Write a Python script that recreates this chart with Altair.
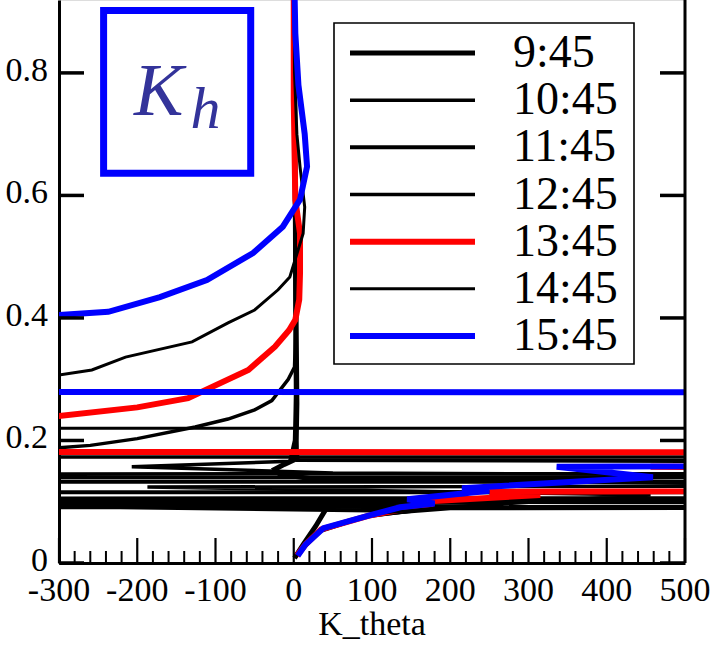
import altair as alt
import pandas as pd

# ---------------- data ----------------
TIMES = ["9:45", "10:45", "11:45", "12:45", "13:45", "14:45", "15:45"]
COLORS = ["#000000", "#000000", "#000000", "#000000", "#ff0000", "#000000", "#0000ff"]
WIDTHS = [5, 3.5, 4, 3.5, 6, 3, 6]

K_0945 = [1, 12, 28, 42, 268, -3000, 3000, 25, -18, -24, -12, 0, 3, 4, 3, 2, 1, 0]
Z_0945 = [0.008, 0.03, 0.06, 0.09, 0.092, 0.100, 0.101, 0.137, 0.145, 0.153, 0.161, 0.168, 0.19, 0.26, 0.40, 0.6, 0.8, 1.0]

K_1045 = [2, 30, 90, 180, 456, -187, 3000, 50, -207, -5, 1, 3, 2, 1, 0]
Z_1045 = [0.01, 0.05, 0.075, 0.09, 0.111, 0.124, 0.130, 0.147, 0.157, 0.166, 0.2, 0.3, 0.5, 0.7, 1.0]

K_1145 = [2, 35, 95, 150, -222, -3000, -3000, 3000, 3000, -3000, -3000, 3000, 3000, 470, 3000, 5, 3, 2, 1, 0]
Z_1145 = [0.012, 0.055, 0.077, 0.085, 0.091, 0.092, 0.105, 0.106, 0.115, 0.116, 0.132, 0.133, 0.139, 0.157, 0.159, 0.168, 0.2, 0.4, 0.7, 1.0]

K_1245 = [2, 32, 100, 200, 3000, 3000, -3000, -3000, 3000, 3000, -3000, -3000, -300, -260, -200, -126, -84, -50,
          -28, -7, 1, 3, 2, 1, 0]
Z_1245 = [0.012, 0.052, 0.079, 0.089, 0.093, 0.139, 0.140, 0.145, 0.146, 0.172, 0.174, 0.186, 0.188, 0.192, 0.203,
          0.222, 0.235, 0.25, 0.265, 0.30, 0.32, 0.4, 0.6, 0.8, 1.0]

K_1345 = [4, 15, 35, 95, 140, 178, 150, 315, 250, 3000, 3000, 456, 3000, 3000, -3000, -3000, -300, -200, -135,
          -58, -24, -6, 2, 7, 8, 8, 2, 0, 0]
Z_1345 = [0.012, 0.03, 0.055, 0.077, 0.088, 0.094, 0.099, 0.111, 0.116, 0.128, 0.150, 0.157, 0.160, 0.180, 0.182,
          0.238, 0.240, 0.254, 0.269, 0.315, 0.353, 0.38, 0.397, 0.43, 0.473, 0.538, 0.593, 0.756, 1.0]

K_1445 = [2, 35, 100, 200, 3000, 3000, -3000, -3000, -300, -258, -215, -130, -84, -50, -20, -5, 12, 14, 8, 4, 1, 0]
Z_1445 = [0.010, 0.055, 0.080, 0.092, 0.100, 0.219, 0.221, 0.30, 0.307, 0.315, 0.336, 0.361, 0.392, 0.413, 0.446,
          0.467, 0.538, 0.581, 0.647, 0.70, 0.8, 1.0]

K_1545 = [5, 15, 38, 98, 136, 180, 145, 250, 215, 459, 336, 3000, 3000, -3000, -3000, -300, -237, -171, -111, -52,
          -14, 8, 17, 14, 6, 2, 0]
Z_1545 = [0.012, 0.03, 0.057, 0.078, 0.091, 0.097, 0.104, 0.118, 0.122, 0.140, 0.157, 0.172, 0.278, 0.280, 0.40,
          0.405, 0.41, 0.434, 0.462, 0.506, 0.549, 0.593, 0.647, 0.70, 0.78, 0.865, 1.0]

SERIES_K = [K_0945, K_1045, K_1145, K_1245, K_1345, K_1445, K_1545]
SERIES_Z = [Z_0945, Z_1045, Z_1145, Z_1245, Z_1345, Z_1445, Z_1545]

X_MAJOR = [-300, -200, -100, 0, 100, 200, 300, 400, 500]
X_MINOR = [v for v in range(-280, 500, 20) if v % 100 != 0]
Y_MAJOR = [0, 0.2, 0.4, 0.6, 0.8]
X_TITLE = "K_theta"

# annotation box (data coordinates) and label
BOX_X = [-243, -55]
BOX_Y = [0.636, 0.902]
K_POS = (-204, 0.731)
H_POS = (-132, 0.710)

# ---------------- layout ----------------
W, H = 626, 563
FONT = "Liberation Serif"
XS = alt.Scale(domain=[-300, 500], nice=False, zero=False)
YS = alt.Scale(domain=[0, 0.919], nice=False, zero=False)

x_axis = alt.Axis(values=X_MAJOR, tickSize=0, labels=False, domainColor="black", domainWidth=3,
                  grid=False, title=None)
y_axis = alt.Axis(values=Y_MAJOR, tickSize=0, labels=False, domainColor="black", domainWidth=3,
                  grid=False, title=None)


def X(field):
    return alt.X(field, scale=XS, axis=x_axis)


def Y(field):
    return alt.Y(field, scale=YS, axis=y_axis)


layers = []

# data lines
for idx, t in enumerate(TIMES):
    df = pd.DataFrame({"k": SERIES_K[idx], "z": SERIES_Z[idx], "i": list(range(len(SERIES_K[idx])))})
    layers.append(
        alt.Chart(df).mark_line(clip=True, color=COLORS[idx], strokeWidth=WIDTHS[idx], strokeJoin="miter")
        .encode(x=X("k:Q"), y=Y("z:Q"), order="i:Q")
    )

# inward ticks
dxmaj = pd.DataFrame({"k": X_MAJOR, "lab": [str(v) for v in X_MAJOR]})
dxmin = pd.DataFrame({"k": X_MINOR})
dymaj = pd.DataFrame({"z": Y_MAJOR, "lab": [("%g" % v) for v in Y_MAJOR]})
layers.append(alt.Chart(dxmaj).mark_rule(color="black", strokeWidth=2.2).encode(
    x=X("k:Q"), y=alt.value(H - 25), y2=alt.value(H)))
layers.append(alt.Chart(dxmin).mark_rule(color="black", strokeWidth=2).encode(
    x=X("k:Q"), y=alt.value(H - 12), y2=alt.value(H)))
layers.append(alt.Chart(dymaj).mark_rule(color="black", strokeWidth=3.5).encode(
    y=Y("z:Q"), x=alt.value(0), x2=alt.value(25)))
layers.append(alt.Chart(dymaj).mark_rule(color="black", strokeWidth=3.5).encode(
    y=Y("z:Q"), x=alt.value(W - 25), x2=alt.value(W)))

# tick labels as text marks (serif)
layers.append(alt.Chart(dxmaj).mark_text(font=FONT, fontSize=34, color="black", align="center",
                                         baseline="top", dy=11).encode(
    x=X("k:Q"), y=alt.value(H), text="lab:N"))
layers.append(alt.Chart(dymaj).mark_text(font=FONT, fontSize=34, color="black", align="right",
                                         baseline="middle", dy=-2).encode(
    y=Y("z:Q"), x=alt.value(-11), text="lab:N"))

one = pd.DataFrame({"a": [0]})
# x title
layers.append(alt.Chart(one).mark_text(text=X_TITLE, font=FONT, fontSize=34, color="black",
                                       align="center", baseline="alphabetic").encode(
    x=alt.value(W / 2), y=alt.value(H + 72)))
# right frame line
layers.append(alt.Chart(one).mark_rule(color="black", strokeWidth=3).encode(
    x=alt.value(W), y=alt.value(0), y2=alt.value(H)))

# K_h box and label
dbox = pd.DataFrame({"k": [BOX_X[0]], "k2": [BOX_X[1]], "z": [BOX_Y[0]], "z2": [BOX_Y[1]]})
layers.append(alt.Chart(dbox).mark_rect(fillOpacity=0, stroke="#0000ff", strokeWidth=7).encode(
    x=X("k:Q"), x2="k2:Q", y=Y("z:Q"), y2="z2:Q"))
dk = pd.DataFrame({"k": [K_POS[0]], "z": [K_POS[1]], "t": ["K"]})
dh = pd.DataFrame({"k": [H_POS[0]], "z": [H_POS[1]], "t": ["h"]})
layers.append(alt.Chart(dk).mark_text(font=FONT, fontStyle="italic", fontSize=74, color="#33339a",
                                      align="left", baseline="alphabetic").encode(
    x=X("k:Q"), y=Y("z:Q"), text="t:N"))
layers.append(alt.Chart(dh).mark_text(font=FONT, fontStyle="italic", fontSize=60, color="#33339a",
                                      align="left", baseline="alphabetic").encode(
    x=X("k:Q"), y=Y("z:Q"), text="t:N"))

# legend
layers.append(alt.Chart(one).mark_rect(fill="white", stroke="black", strokeWidth=1.6).encode(
    x=alt.value(275), x2=alt.value(575), y=alt.value(23), y2=alt.value(364)))
for idx, t in enumerate(TIMES):
    ly = 53 + 47.17 * idx
    layers.append(alt.Chart(one).mark_rule(color=COLORS[idx], strokeWidth=WIDTHS[idx]).encode(
        x=alt.value(291), x2=alt.value(416), y=alt.value(ly)))
    layers.append(alt.Chart(one).mark_text(text=t, font=FONT, fontSize=46, color="black",
                                           align="left", baseline="middle").encode(
        x=alt.value(454), y=alt.value(ly)))

chart = alt.layer(*layers).properties(
    width=W, height=H,
    autosize=alt.AutoSizeParams(type="none"),
    padding={"left": 59, "top": 0, "right": 29, "bottom": 82},
).configure_view(stroke="transparent").configure(background="white")

chart.save("out.html", embed_options={"renderer": "svg", "actions": False})
